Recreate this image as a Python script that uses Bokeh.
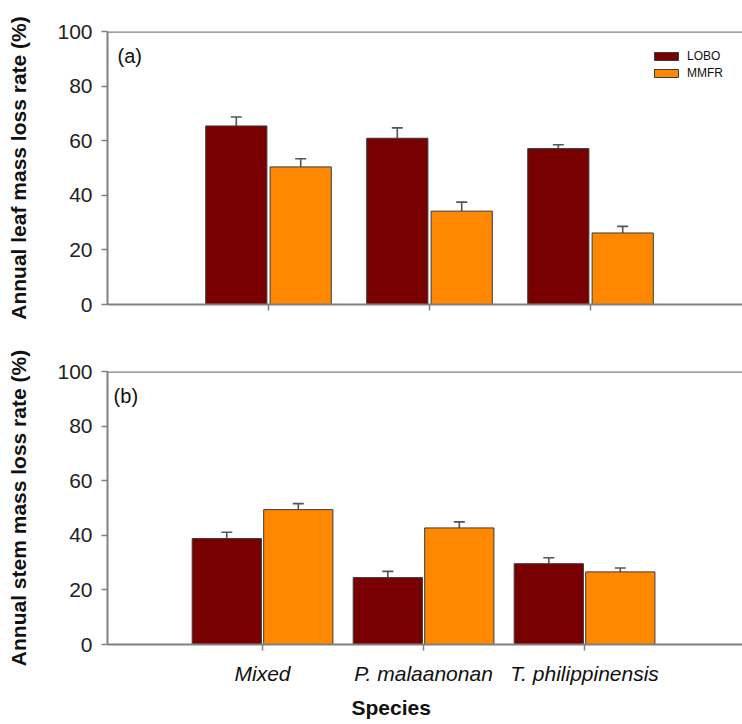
from bokeh.plotting import figure
from bokeh.models import (Whisker, TeeHead, ColumnDataSource, Label, Span, Title,
                          Legend, LegendItem, FixedTicker)
from bokeh.layouts import column
from bokeh.embed import file_html
from bokeh.resources import INLINE

species = ["Mixed", "P. malaanonan", "T. philippinensis"]
sites = ["LOBO", "MMFR"]
leaf_lobo = [65.4, 60.9, 57.1]
leaf_lobo_se = [3.3, 3.8, 1.4]
leaf_mmfr = [50.4, 34.2, 26.2]
leaf_mmfr_se = [3.0, 3.3, 2.4]
stem_lobo = [38.8, 24.5, 29.6]
stem_lobo_se = [2.3, 2.3, 2.2]
stem_mmfr = [49.4, 42.7, 26.6]
stem_mmfr_se = [2.2, 2.2, 1.4]
y_ticks = [0, 20, 40, 60, 80, 100]

FONT = "Liberation Sans"
COLORS = {"LOBO": "#780000", "MMFR": "#FF8800"}
AXIS_COL = "#808080"


def panel(height, left_border, bottom_border, x_start, x_end, bar_w, offset,
          series, ylabel, tag, tag_pos, show_xlabels):
    p = figure(width=742, height=height, x_range=(x_start, x_end), y_range=(0, 100),
               output_backend="svg", toolbar_location=None,
               min_border_left=left_border, min_border_right=0,
               min_border_top=31, min_border_bottom=bottom_border)
    p.outline_line_color = None
    p.xgrid.visible = False
    p.ygrid.visible = False
    p.background_fill_color = "white"
    p.border_fill_color = "white"

    idx = [i + 1 for i in range(len(species))]
    renderers = {}
    for k, (site, vals, errs) in enumerate(series):
        xs = [i + (k - 0.5) * 2 * offset for i in idx]
        src = ColumnDataSource(dict(x=xs, top=vals,
                                    up=[v + e for v, e in zip(vals, errs)]))
        r = p.vbar(x="x", top="top", width=bar_w, bottom=0, source=src,
                   fill_color=COLORS[site], line_color="#3a3a3a", line_width=1)
        renderers[site] = r
        w = Whisker(base="x", lower="top", upper="up", source=src,
                    line_color="#555555", line_width=1.6, lower_head=None,
                    upper_head=TeeHead(size=11, line_color="#555555", line_width=1.6))
        p.add_layout(w)

    # y axis
    ya = p.yaxis[0]
    ya.ticker = FixedTicker(ticks=y_ticks)
    ya.minor_tick_line_color = None
    ya.major_tick_in = 0
    ya.major_tick_out = 6
    ya.axis_line_color = AXIS_COL
    ya.axis_line_width = 2
    ya.major_tick_line_color = AXIS_COL
    ya.major_tick_line_width = 1.5
    ya.major_label_text_font = FONT
    ya.major_label_text_font_size = "21px"
    ya.major_label_text_color = "#222222"
    ya.major_label_standoff = 9
    ya.axis_label = ylabel
    ya.axis_label_text_font = FONT
    ya.axis_label_text_font_size = "21px"
    ya.axis_label_text_font_style = "bold"
    ya.axis_label_text_color = "#111111"
    ya.axis_label_standoff = 24

    # x axis
    xa = p.xaxis[0]
    xa.ticker = FixedTicker(ticks=idx)
    xa.minor_tick_line_color = None
    xa.major_tick_in = 0
    xa.major_tick_out = 6
    xa.axis_line_color = AXIS_COL
    xa.axis_line_width = 2
    xa.major_tick_line_color = AXIS_COL
    xa.major_tick_line_width = 1.5
    xa.major_label_text_font = FONT
    xa.major_label_text_font_style = "italic"
    xa.major_label_text_color = "#111111"
    xa.major_label_standoff = 11
    xa.major_label_text_font_size = "21px"
    if show_xlabels:
        xa.major_label_overrides = {i: s for i, s in zip(idx, species)}
    else:
        xa.major_label_overrides = {i: "" for i in idx}

    # top frame line
    p.add_layout(Span(location=100, dimension="width", line_color=AXIS_COL,
                      line_width=2.5))

    p.add_layout(Label(x=tag_pos[0], y=tag_pos[1], text=tag, text_font=FONT,
                       text_font_size="20px", text_color="#111111",
                       text_baseline="middle", text_align="left"))
    return p, renderers


top_p, rends = panel(340, 107, 36, 0.0, 3.944, 0.38, 0.2,
                     [("LOBO", leaf_lobo, leaf_lobo_se), ("MMFR", leaf_mmfr, leaf_mmfr_se)],
                     "Annual leaf mass loss rate (%)", "(a)", (0.062, 91.2), False)

legend = Legend(items=[LegendItem(label=s, renderers=[rends[s]]) for s in sites],
                location=(544, 224), orientation="vertical",
                glyph_width=30, glyph_height=10, label_height=10, spacing=3,
                padding=0, margin=0, label_standoff=6,
                label_text_font=FONT, label_text_font_size="12px",
                label_text_color="#111111",
                border_line_color=None, background_fill_alpha=0)
top_p.add_layout(legend)

bot_p, _ = panel(384, 95, 79, 0.037, 3.981, 0.43, 0.222,
                 [("LOBO", stem_lobo, stem_lobo_se), ("MMFR", stem_mmfr, stem_mmfr_se)],
                 "Annual stem mass loss rate (%)", "(b)", (0.075, 90.9), True)

bot_p.add_layout(Title(text="Species", text_font=FONT, text_font_size="21px",
                       text_font_style="bold", text_color="#111111",
                       align="left", offset=244, standoff=12), "below")

layout = column(top_p, bot_p, spacing=0)
open("out.html", "w").write(file_html(layout, INLINE))
